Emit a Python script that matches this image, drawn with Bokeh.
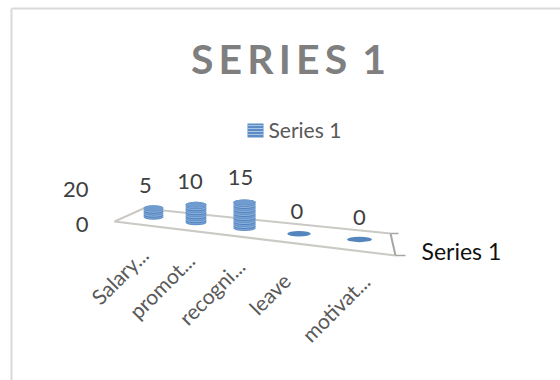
from bokeh.core.properties import value
from bokeh.embed import file_html
from bokeh.models import Range1d
from bokeh.plotting import figure
from bokeh.resources import INLINE

categories = ["Salary...", "promot...", "recogni...", "leave", "motivat..."]
series_name = "Series 1"
series_values = [5, 10, 15, 0, 0]
value_ticks = [20, 0]
chart_title = "S\u2009E\u2009R\u2009I\u2009E\u2009S\u2009 1"

FONT = value("Lato")
W, H = 560, 380

p = figure(width=W, height=H, output_backend="svg", toolbar_location=None,
           x_range=Range1d(0, W), y_range=Range1d(H, 0), min_border=0)
p.axis.visible = False
p.grid.visible = False
p.outline_line_color = None
p.background_fill_color = "white"
p.border_fill_color = "white"


# Oblique floor projection: category index to screen position
def bar_x(i):
    return 153 + 39.5 * i + 3.0 * i * i


def bar_y(i):
    return 216.5 + 5.6 * i


UNIT = 1.75  # screen pixels per value unit

# Chart frame
p.line([11, 11], [380, 8], line_color="#d9d9d9", line_width=2)
p.line([11, 560], [8, 8], line_color="#d9d9d9", line_width=2)

# Floor outline and the depth axis at its right end
floor_color = "#cbc9c4"
p.line([114, 143, 390], [221, 208, 233], line_color=floor_color, line_width=2)
p.line([114, 395], [221, 255], line_color=floor_color, line_width=2)
p.line([390, 395], [233, 255], line_color="#a6a6a6", line_width=2)
p.line([390, 398], [233, 233], line_color="#a6a6a6", line_width=1.5)
p.line([395, 405], [255, 255], line_color="#a6a6a6", line_width=1.5)

# Cylinders built up from stacked ellipses with banded shading
bands = ["#5f8fc8", "#7ba4d4", "#4f81bd", "#8fb3dc"]
for i, v in enumerate(series_values):
    width = 20 + 1.2 * i
    height = 5.5
    x = bar_x(i)
    y = bar_y(i)
    rise = int(round(v * UNIT))
    xs = [x] * (rise + 1)
    ys = [y - k for k in range(rise + 1)]
    colors = [bands[k % len(bands)] for k in range(rise + 1)]
    if v == 0:
        colors = ["#5585bd"]
    p.ellipse(xs, ys, width=width, height=height, fill_color=colors,
              line_color=None)
    if v > 0:
        p.ellipse([x], [y - rise], width=width, height=height,
                  fill_color="#6f9bcf", line_color=None)

# Value labels above each cylinder
for i, v in enumerate(series_values):
    p.text([bar_x(i) - 8 + 2 * i], [bar_y(i) - v * 1.9 - 22], text=[str(v)],
           text_font=FONT, text_font_size="22px", text_color="#404040",
           text_align="center", text_baseline="middle")

# Value axis labels
for t in value_ticks:
    p.text([88], [224 - t * 1.75], text=[str(t)], text_font=FONT,
           text_font_size="22px", text_color="#404040", text_align="right",
           text_baseline="middle")

# Rotated category labels
label_shift = [-4, -1, -2, -7, 0]
for i, c in enumerate(categories):
    p.text([119 + 38 * i + 4 * i * i], [279 + 7 * i + label_shift[i]], text=[c],
           angle=[0.785], text_font=FONT, text_font_size="21px",
           text_color="#595959", text_align="center", text_baseline="middle")

# Title
p.text([288], [58], text=[chart_title], text_font=FONT, text_font_size="41px",
       text_font_style="bold", text_color="#7f7f7f", text_align="center",
       text_baseline="middle")

# Legend swatch and label
p.rect([255], [130], width=16, height=14, fill_color="#5b8cc4", line_color=None)
for k in range(4):
    p.line([247, 263], [125 + 3 * k, 125 + 3 * k], line_color="#a9c4e4",
           line_width=1)
p.text([268], [129], text=[series_name], text_font=FONT, text_font_size="21px",
       text_color="#595959", text_align="left", text_baseline="middle")

# Depth axis label
p.text([421], [250], text=[series_name], text_font=FONT, text_font_size="23px",
       text_color="#111111", text_align="left", text_baseline="middle")

open("out.html", "w").write(file_html(p, INLINE))
